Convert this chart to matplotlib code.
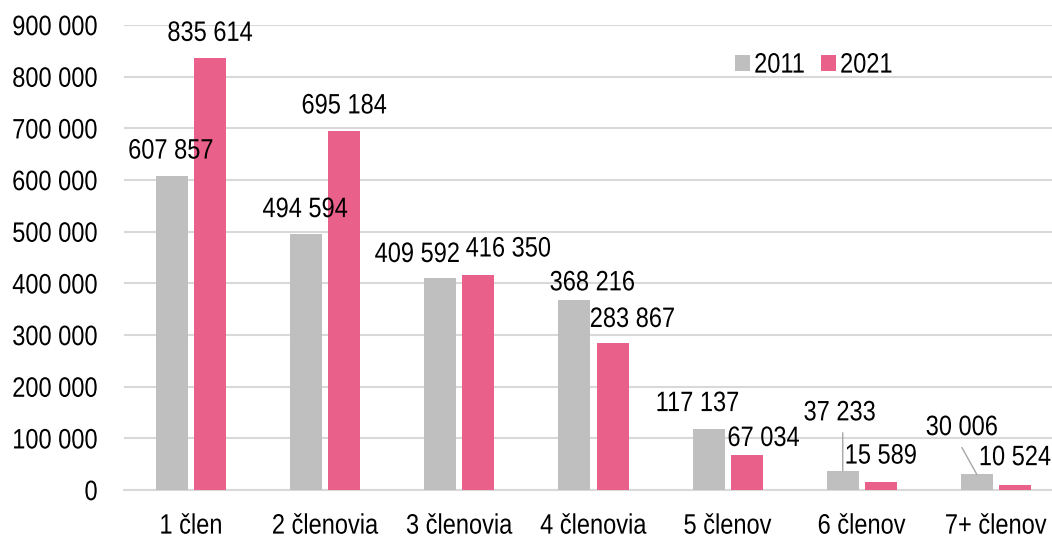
import numpy as np
import matplotlib.pyplot as plt
from matplotlib.patheffects import AbstractPathEffect
from matplotlib.transforms import Affine2D

categories = ['1 člen', '2 členovia', '3 členovia', '4 členovia', '5 členov', '6 členov', '7+ členov']
values_2011 = [607857, 494594, 409592, 368216, 117137, 37233, 30006]
values_2021 = [835614, 695184, 416350, 283867, 67034, 15589, 10524]
years = ['2011', '2021']

# label offsets in pixels (dx, dy) from bar top centre
off_2011 = [(-1, 25), (-1, 25), (-23, 24), (18, 17), (-11, 26), (-3, 58), (-15, 47)]
off_2021 = [(0, 25), (0, 25), (30, 26), (20, 24), (17, 17), (0, 26), (0, 27)]
# leader lines for the small 2011 bars: (index, start offset in pixels)
leaders = [(5, (0, 38)), (6, (-15, 27))]

plt.rcParams['font.family'] = ['Liberation Sans', 'DejaVu Sans']
fs = 17

c2011 = '#bfbfbf'
c2021 = '#e9608a'


class Tall(AbstractPathEffect):
    """stretch text vertically, so it looks like Arial Narrow"""

    def __init__(self, sy=1.19, y0=36):
        super().__init__()
        self.sy = sy
        self.y0 = y0

    def draw_path(self, renderer, gc, tpath, affine, rgbFace=None):
        t = Affine2D().translate(0, -self.y0).scale(1, self.sy).translate(0, self.y0) + affine
        renderer.draw_path(gc, tpath, t, rgbFace)


fig = plt.figure(figsize=(10.52, 5.38), dpi=100)
ax = fig.add_axes([124 / 1052, 1 - 490 / 538, 939 / 1052, 465 / 538])

x = np.arange(len(categories))
w = 0.238
b1 = ax.bar(x - 0.142, values_2011, w, color=c2011, label=years[0], zorder=3)
b2 = ax.bar(x + 0.142, values_2021, w, color=c2021, label=years[1], zorder=3)


def fmt(v):
    return f'{v:,}'.replace(',', ' ')


for bars, vals, offs in [(b1, values_2011, off_2011), (b2, values_2021, off_2021)]:
    for rect, v, (dx, dy) in zip(bars, vals, offs):
        cx = rect.get_x() + rect.get_width() / 2
        ax.annotate(fmt(v), (cx, v), xytext=(dx, dy), textcoords='offset pixels',
                    ha='center', va='center', fontsize=fs, zorder=4,
                    path_effects=[Tall()])

for i, (sx, sy) in leaders:
    rect = b1[i]
    cx = rect.get_x() + rect.get_width() / 2
    ax.annotate('', (cx, values_2011[i]), xytext=(sx, sy), textcoords='offset pixels',
                arrowprops=dict(arrowstyle='-', color='#a6a6a6', lw=1, shrinkA=0, shrinkB=0))

ax.set_xlim(-0.5, len(categories) - 0.5)
ax.set_ylim(0, 900000)
yt = np.arange(0, 900001, 100000)
ax.set_yticks(yt)
ax.set_yticklabels([fmt(int(v)) for v in yt], fontsize=fs)
ax.set_xticks(x)
ax.set_xticklabels(categories, fontsize=fs)
for lbl in ax.get_yticklabels() + ax.get_xticklabels():
    lbl.set_path_effects([Tall()])
ax.tick_params(axis='both', length=0)
ax.tick_params(axis='y', pad=19)
ax.tick_params(axis='x', pad=18)
ax.grid(axis='y', color='#d9d9d9', lw=1.5, zorder=0)
for s in ['top', 'right', 'left']:
    ax.spines[s].set_visible(False)
ax.spines['bottom'].set_color('#d9d9d9')
ax.spines['bottom'].set_linewidth(1.5)

leg = ax.legend(loc='center left', bbox_to_anchor=(735 / 1052, 1 - 65 / 538),
                bbox_transform=fig.transFigure, ncol=2, frameon=False,
                fontsize=fs, borderpad=0, borderaxespad=0,
                handlelength=0.64, handleheight=0.64, handletextpad=0.17,
                columnspacing=0.68)
for t in leg.get_texts():
    t.set_path_effects([Tall()])

fig.savefig('out.png', dpi=100)
